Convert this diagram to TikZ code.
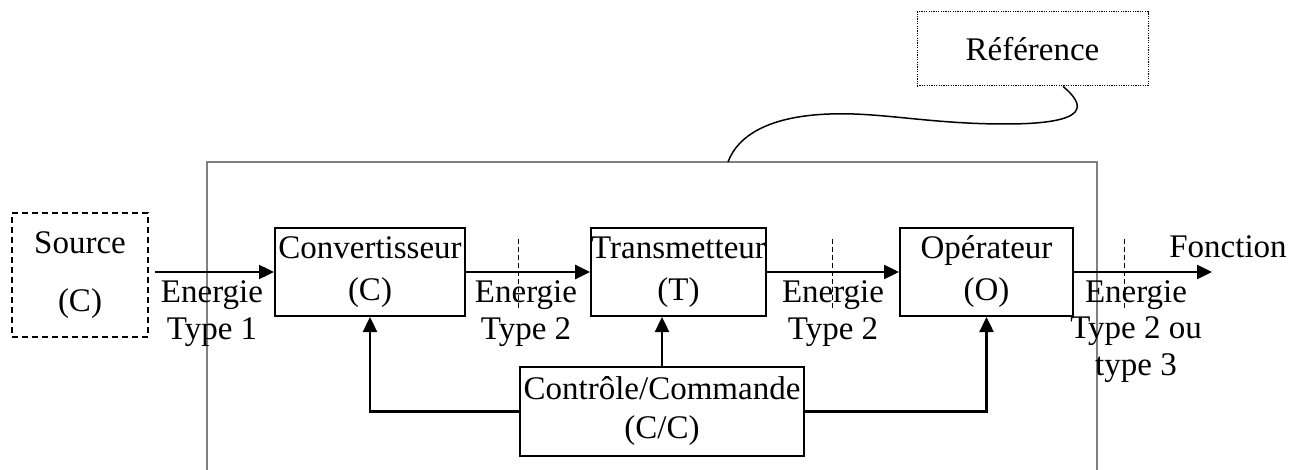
\documentclass[tikz,border=0pt]{standalone}
\usepackage{fontspec}
\setmainfont{Liberation Serif}
\usetikzlibrary{arrows.meta,calc}
\begin{document}
\begin{tikzpicture}[x=0.5pt,y=-0.5pt,
  txt/.style={font={\fontsize{16.5}{21}\selectfont}},
  blockbox/.style={draw,line width=1pt,align=center,inner sep=0pt,txt},
  lbl/.style={align=center,inner sep=0pt,anchor=base,font={\fontsize{16.5}{18.25}\selectfont}},
  flow/.style={line width=1.2pt,-{Triangle[length=7.5pt,width=7pt]}},
  tick/.style={line width=0.5pt,dash pattern=on 2.5pt off 1.5pt}]
\useasboundingbox (0,0) rectangle (1301,470);
% gray frame
\draw[line width=1pt,gray] (207,470) -- (207,162) -- (1097,162) -- (1097,470);
\coordinate (frametop) at (728,162);
% blocks
\node[draw,line width=0.75pt,dash pattern=on 3pt off 2pt,align=center,inner sep=0pt,
  font={\fontsize{16.5}{29}\selectfont},minimum width=68pt,minimum height=62pt] (src) at (80,275) {Source\\(C)};
\node[blockbox,minimum width=95pt,minimum height=44pt] (conv) at (370,272) {Convertisseur\\(C)};
\node[blockbox,minimum width=86.5pt,minimum height=44pt] (trans) at (678.5,272) {Transmetteur\\(T)};
\node[blockbox,minimum width=86.5pt,minimum height=44pt] (op) at (986.5,272) {Opérateur\\(O)};
\node[blockbox,font={\fontsize{16.5}{19.5}\selectfont},minimum width=142pt,minimum height=44.5pt] (cc) at (662,411.5) {Contrôle/Commande\\(C/C)};
\node[draw,line width=0.5pt,dash pattern=on 0.6pt off 0.6pt,inner sep=0pt,txt,
  minimum width=115.5pt,minimum height=37pt] (ref) at (1032.5,49) {Référence};
% energy flow
\coordinate (srcout) at (155,272);
\coordinate (fnend) at (1212,272);
\draw[flow] (srcout) -- (conv.west);
\draw[flow] (conv.east) -- (trans.west);
\draw[flow] (trans.east) -- (op.west);
\draw[flow] (op.east) -- (fnend);
\node[lbl] (fn) at (1228,257) {Fonction};
% dashed ticks
\coordinate (t1a) at (518,239); \coordinate (t1b) at (518,311);
\coordinate (t2a) at (832,239); \coordinate (t2b) at (832,311);
\coordinate (t3a) at (1124,239); \coordinate (t3b) at (1124,311);
\draw[tick] (t1a) -- (t1b);
\draw[tick] (t2a) -- (t2b);
\draw[tick] (t3a) -- (t3b);
% energy labels (base = last line)
\node[lbl] (e1) at (212,339) {Energie\\Type 1};
\node[lbl] (e2) at (526,339) {Energie\\Type 2};
\node[lbl] (e3) at (833,339) {Energie\\Type 2};
\node[lbl] (e4) at (1136,375) {Energie\\Type 2 ou\\type 3};
% control lines
\draw[flow] (cc.west) -| (conv.south);
\draw[flow] (cc.north) -- (cc.north |- trans.south);
\draw[flow] (cc.east) -| (op.south);
% reference callout
\coordinate (refpt) at ($(ref.south west)!0.632!(ref.south east)$);
\draw[line width=0.75pt] (refpt) .. controls (1085,105) and (1092,124) .. (1005,124)
  .. controls (930,124) and (880,112) .. (830,114)
  .. controls (770,116) and (738,135) .. (frametop);
\end{tikzpicture}
\end{document}
